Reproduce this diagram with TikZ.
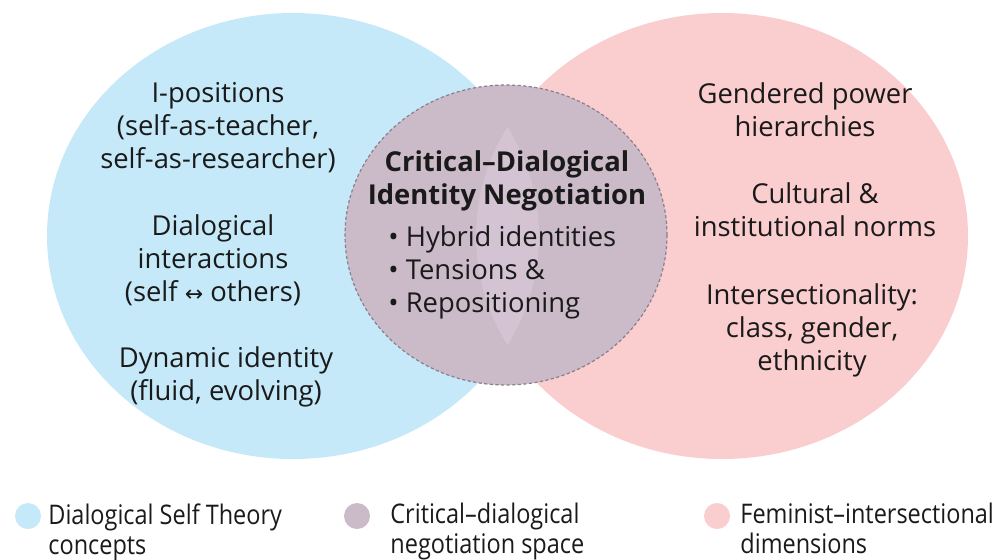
\documentclass[tikz,border=0pt]{standalone}
\usepackage{fontspec}
\setmainfont{Open Sans}
\newfontfamily\legendfont{Open Sans}[FakeStretch=0.87]
\newfontfamily\arrowfont{DejaVu Sans}
\usetikzlibrary{positioning}
\definecolor{dstblue}{HTML}{C5E9F8}
\definecolor{fempink}{HTML}{FACDCF}
\definecolor{negpurple}{HTML}{CBBAC8}
\definecolor{lenspurple}{HTML}{D3C3D3}
\definecolor{dashgray}{HTML}{8A7F8C}
\definecolor{inktext}{HTML}{1A1A1A}

\begin{document}
\begin{tikzpicture}[x=0.5pt, y=-0.5pt, text=inktext,
    font=\fontsize{13.7}{16.5}\selectfont,
    bigset/.style={x radius=123pt, y radius=111.5pt},
    midset/.style={x radius=80.5pt, y radius=75pt},
    keydot/.style={circle, minimum size=13pt, inner sep=0pt},
    keytext/.style={anchor=north west, align=left, inner sep=0pt,
      font=\legendfont\fontsize{13.5}{15}\selectfont}]
   \useasboundingbox (0,0) rectangle (1000,559);
   \fill[dstblue] (293,236) ellipse [bigset];
   \fill[fempink] (722,236) ellipse [bigset];
   \fill[negpurple] (506,235) ellipse [midset];
   \begin{scope}
    \clip (293,236) ellipse [bigset];
    \fill[lenspurple] (722,236) ellipse [bigset];
   \end{scope}
   \draw[dashgray, line width=0.6pt, dash pattern=on 1.6pt off 1.2pt] (506,235) ellipse [midset];
   \begin{scope}[every node/.style={align=center, inner sep=0pt}]
    \node (ipos) at (218,128) {I-positions\\(self-as-teacher,\\self-as-researcher)};
    \node (dialog) at (213,260) {Dialogical\\interactions\\(self {\arrowfont\fontsize{11}{11}\selectfont ↔} others)};
    \node (dynamic) at (226,377) {Dynamic identity\\(fluid, evolving)};
    \node (negtitle) at (507,181) {\bfseries Critical–Dialogical\\\bfseries Identity Negotiation};
    \node (negitems) [align=left, anchor=west] at (388,272) {• Hybrid identities\\• Tensions \&\\• Repositioning};
    \node (power) at (805,110) {Gendered power\\hierarchies};
    \node (norms) at (815,210) {Cultural \&\\institutional norms};
    \node (intersect) at (812,330) {Intersectionality:\\class, gender,\\ethnicity};
   \end{scope}
   \node[keydot, fill=dstblue] (keydst) at (28,516) {};
   \node[keydot, fill=negpurple] (keyneg) at (357,516) {};
   \node[keydot, fill=fempink] (keyfem) at (717,516) {};
   \node[keytext] (keydsttext) at (48,503) {Dialogical Self Theory\\concepts};
   \node[keytext] (keynegtext) at (390,503) {Critical–dialogical\\negotiation space};
   \node[keytext] (keyfemtext) at (740,503) {Feminist–intersectional\\dimensions};
\end{tikzpicture}
\end{document}
